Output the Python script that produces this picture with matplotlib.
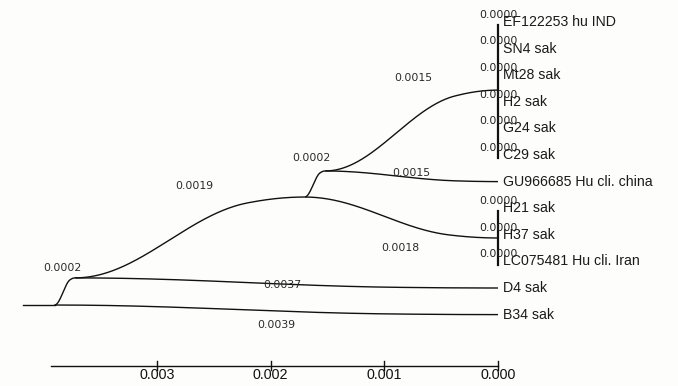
import numpy as np
import matplotlib
matplotlib.use("Agg")
import matplotlib.pyplot as plt

# ---------------- data ----------------
leaf_names = ["EF122253 hu IND", "SN4 sak", "Mt28 sak", "H2 sak", "G24 sak", "C29 sak",
              "GU966685 Hu cli. china", "H21 sak", "H37 sak", "LC075481 Hu cli. Iran",
              "D4 sak", "B34 sak"]
# node heights (distance from tips)
node_names = ["root", "A", "B", "C", "D", "E"]
node_height = [0.0039, 0.00372, 0.0017, 0.00152, 0.0, 0.0]
node_row = [10.64, 9.62, 6.58, 5.60, 2.56, 8.12]
# branches: parent, child, label
branch_parent = ["root", "root", "A", "A", "B", "B", "C", "C"]
branch_child = ["A", "B34 sak", "D4 sak", "B", "C", "E", "D", "GU966685 Hu cli. china"]
branch_label = ["0.0002", "0.0039", "0.0037", "0.0019", "0.0002", "0.0018", "0.0015", "0.0015"]
clade_D = ["EF122253 hu IND", "SN4 sak", "Mt28 sak", "H2 sak", "G24 sak", "C29 sak"]
clade_E = ["H21 sak", "H37 sak", "LC075481 Hu cli. Iran"]
zero_label = "0.0000"
root_stem = 0.00418
scale_ticks = [0.003, 0.002, 0.001, 0.000]
scale_tick_labels = ["0.003", "0.002", "0.001", "0.000"]
scale_start = 0.00393

# ---------------- layout ----------------
# label anchors (distance, row) for branch labels
label_anchor = [(0.003835, 9.25), (0.001953, 11.39), (0.00190, 9.89), (0.002674, 6.17),
                (0.001645, 5.11), (0.000862, 8.50), (0.000748, 2.11), (0.000765, 5.68)]
scale_row = 12.93
curve_span = 0.75   # fraction of a branch over which the fast bend happens

fig = plt.figure(figsize=(6.78, 3.86), dpi=100)
fig.patch.set_facecolor("#fdfdfb")
ax = fig.add_axes([0, 0, 1, 1])
ax.set_facecolor("#fdfdfb")
ax.set_xlim(498 / 113.7 / 1000, -180 / 113.7 / 1000)
ax.set_ylim(13.684, -0.827)
ax.axis("off")

pos = {}
for n, h, r in zip(node_names, node_height, node_row):
    pos[n] = (h, r)
for i, n in enumerate(leaf_names):
    pos[n] = (0.0, float(i))

def curve(p0, p1, n=200):
    t = np.linspace(0, 1, n)
    x = p0[0] + (p1[0] - p0[0]) * t
    u = np.clip(t / curve_span, 0, 1)
    s1 = (1 - np.cos(np.pi * u)) / 2
    s2 = (1 - np.cos(np.pi * t)) / 2
    s = 0.5 * (s1 + s2)
    y = p0[1] + (p1[1] - p0[1]) * s
    return x, y

lc = "#111111"
for p, c in zip(branch_parent, branch_child):
    x, y = curve(pos[p], pos[c])
    ax.plot(x, y, color=lc, lw=1.0, solid_capstyle="butt")

# root stem
ax.plot([root_stem, pos["root"][0]], [pos["root"][1]] * 2, color=lc, lw=1.0)

# clade bars
for clade in (clade_D, clade_E):
    rows = [pos[n][1] for n in clade]
    ax.plot([0, 0], [min(rows) + 0.1, max(rows) + 0.12], color=lc, lw=1.6)

# leaf labels
for n in leaf_names:
    ax.text(-0.000044, pos[n][1], n, fontsize=10.2, family="Liberation Sans",
            color="#1a1a1a", ha="left", va="center")

# zero labels
for n in clade_D + clade_E:
    ax.text(0.0, pos[n][1] - 0.27, zero_label, fontsize=7.8, family="DejaVu Sans",
            color="#222222", ha="center", va="center")

# branch labels
for lab, (ax_d, ax_r) in zip(branch_label, label_anchor):
    ax.text(ax_d, ax_r, lab, fontsize=7.8, family="DejaVu Sans",
            color="#2a2a2a", ha="center", va="center")

# scale axis
ax.plot([scale_start, 0.0], [scale_row, scale_row], color=lc, lw=1.0)
for tv, tl in zip(scale_ticks, scale_tick_labels):
    ax.plot([tv, tv], [scale_row - 0.19, scale_row + 0.15], color=lc, lw=1.0)
    ax.text(tv, scale_row + 0.08, tl, fontsize=10.3, family="Liberation Sans",
            color="#111111", ha="center", va="top")

fig.savefig("out.png", dpi=100, facecolor=fig.get_facecolor())
